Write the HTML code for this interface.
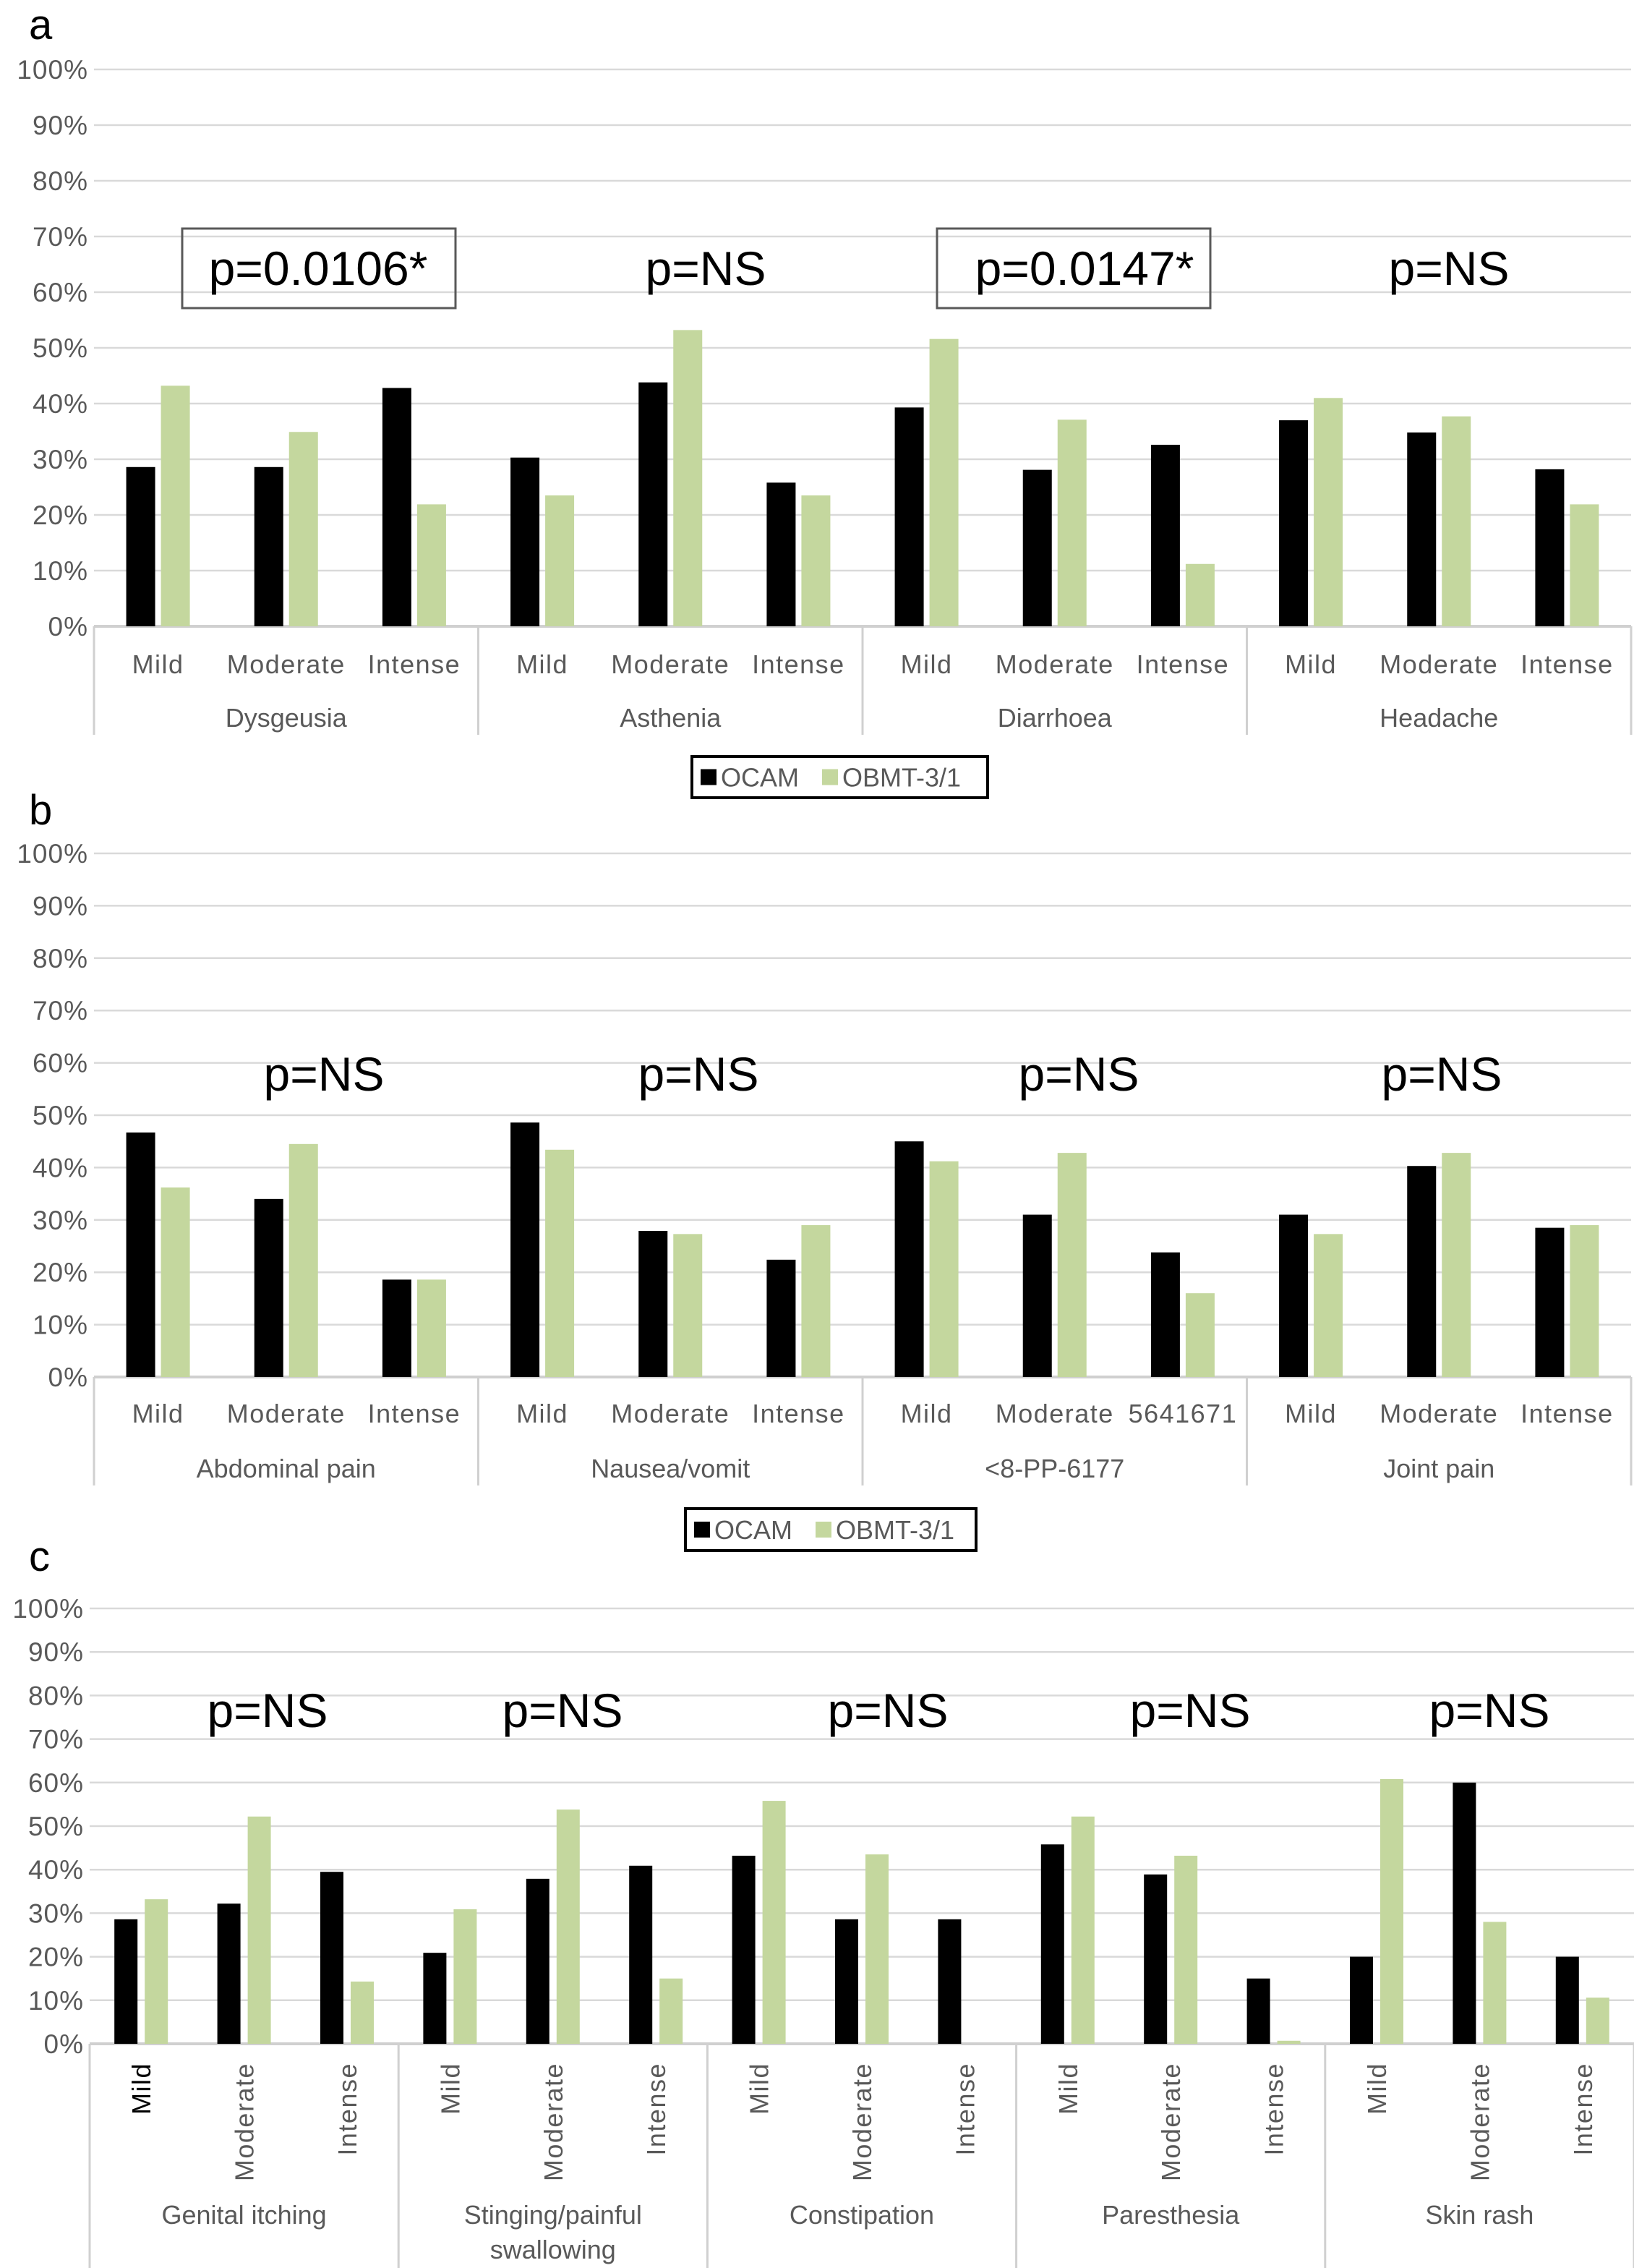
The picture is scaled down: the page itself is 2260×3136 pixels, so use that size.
<!DOCTYPE html>
<html><head><meta charset="utf-8"><style>
body{margin:0;background:#fff}
svg{display:block;font-family:"Liberation Sans",sans-serif}
</style></head><body>
<svg id="chart" width="2260" height="3136" viewBox="0 0 2260 3136" xmlns="http://www.w3.org/2000/svg"></svg>
<script>
const subs = ["Mild","Moderate","Intense"];
const groupsA = ["Dysgeusia","Asthenia","Diarrhoea","Headache"];
const ocamA = [28.6,28.6,42.8, 30.3,43.8,25.8, 39.3,28.1,32.6, 37.0,34.8,28.2];
const obmtA = [43.2,34.9,21.9, 23.5,53.2,23.5, 51.6,37.1,11.2, 41.0,37.7,21.9];
const pA = ["p=0.0106*","p=NS","p=0.0147*","p=NS"];
const groupsB = ["Abdominal pain","Nausea/vomit","<8-PP-6177","Joint pain"];
const ocamB = [46.7,34.0,18.6, 48.6,27.9,22.4, 45.0,31.0,23.8, 31.0,40.3,28.5];
const obmtB = [36.2,44.5,18.6, 43.4,27.3,29.0, 41.2,42.8,16.0, 27.3,42.8,29.0];
const pB = ["p=NS","p=NS","p=NS","p=NS"];
const groupsC = ["Genital itching","Stinging/painful|swallowing","Constipation","Paresthesia","Skin rash"];
const ocamC = [28.6,32.2,39.5, 20.9,37.9,40.9, 43.2,28.6,28.6, 45.8,38.9,15.0, 20.0,60.0,20.0];
const obmtC = [33.2,52.2,14.3, 30.9,53.8,15.0, 55.8,43.5,0, 52.2,43.2,0.7, 60.8,28.0,10.6];
const pC = ["p=NS","p=NS","p=NS","p=NS","p=NS"];
const ticks = [0,10,20,30,40,50,60,70,80,90,100];

const svg = document.getElementById('chart');
const NS = "http://www.w3.org/2000/svg";
function mk(tag, attrs, parent){const e=document.createElementNS(NS,tag);for(const k in attrs)e.setAttribute(k,attrs[k]);(parent||svg).appendChild(e);return e;}

function panel(cfg){
  const g = mk('g',{});
  
  
  const y = v => cfg.y0 - (cfg.y0-cfg.y100)*v/100;
  const n = cfg.groups.length;
  const gw = (cfg.x1-cfg.x0)/n, sw = gw/3;
  ticks.forEach(t=>{
    const l = mk('line',{x1:cfg.x0,x2:cfg.x1,y1:y(t),y2:y(t),stroke:t===0?'#d0d0d0':'#d9d9d9','stroke-width':t===0?4:2.5},g);
    
    
    const tx = mk('text',{x:cfg.x0-8,y:y(t)+13,'text-anchor':'end','font-size':37,'letter-spacing':1,fill:'#595959'},g);
    tx.textContent = t+'%';
    
    
  });
  for(let i=0;i<=n;i++){
    const sx = cfg.x0+i*gw;
    const s = mk('line',{x1:sx,x2:sx,y1:cfg.y0,y2:cfg.sepEnd,stroke:'#d0d0d0','stroke-width':3},g);
    
    
  }
  for(let i=0;i<n*3;i++){
    const cx = cfg.x0 + sw*(i+0.5);
    const b1 = mk('rect',{x:cx-cfg.bw-cfg.gap/2,y:y(cfg.ocam[i]),width:cfg.bw,height:cfg.y0-y(cfg.ocam[i]),fill:'#000'},g);
    
    
    const b2 = mk('rect',{x:cx+cfg.gap/2,y:y(cfg.obmt[i]),width:cfg.bw,height:cfg.y0-y(cfg.obmt[i]),fill:'#c4d79e'},g);
    
    
    const lab = (cfg.subLabels && cfg.subLabels[i]) || subs[i%3];
    let t;
    if(cfg.rotate){
      t = mk('text',{x:0,y:0,transform:`translate(${cx+13},${cfg.subY}) rotate(-90)`,'text-anchor':'end','font-size':36,'letter-spacing':1.5,fill:i===0?'#000':'#595959'},g);
    } else {
      t = mk('text',{x:cx,y:cfg.subY,'text-anchor':'middle','font-size':36,'letter-spacing':1.5,fill:'#595959'},g);
    }
    t.textContent = lab;
    
    
  }
  cfg.groups.forEach((gn,i)=>{
    const cx = cfg.x0+gw*(i+0.5);
    gn.split('|').forEach((line,j)=>{
      const t = mk('text',{x:cx,y:cfg.grpY+j*48,'text-anchor':'middle','font-size':36,fill:'#595959'},g);
      t.textContent = line;
      
      
    });
    const p = mk('text',{x:cfg.pX[i],y:cfg.pY,'text-anchor':'middle','font-size':66,fill:'#000'},g);
    p.textContent = cfg.p[i];
    
    
  });
  (cfg.boxes||[]).forEach(bx=>{
    const r = mk('rect',{x:bx[0],y:bx[1],width:bx[2],height:bx[3],fill:'none',stroke:'#595959','stroke-width':3},g);
    
    
  });
  const L = mk('text',{x:40,y:cfg.letterY,'font-size':58,fill:'#000'},g);
  L.textContent = cfg.letter;
  
  
}
function legend(x,y,w,h){
  const g = mk('g',{});
  
  
  mk('rect',{x:x,y:y,width:w,height:h,fill:'#fff',stroke:'#000','stroke-width':4},g);
  mk('rect',{x:x+12,y:y+h/2-11,width:22,height:22,fill:'#000'},g);
  const t1 = mk('text',{x:x+40,y:y+h/2+13,'font-size':36,fill:'#595959'},g); t1.textContent='OCAM';
  
  
  mk('rect',{x:x+180,y:y+h/2-11,width:22,height:22,fill:'#c4d79e'},g);
  const t2 = mk('text',{x:x+208,y:y+h/2+13,'font-size':36,fill:'#595959'},g); t2.textContent='OBMT-3/1';
  
  
}
panel({name:'panel-a',letter:'a',letterY:54,x0:130,x1:2256,y0:866,y100:96,groups:groupsA,ocam:ocamA,obmt:obmtA,p:pA,
  pX:[440,976,1500,2004],pY:394,subY:931,grpY:1005,sepEnd:1016,bw:40,gap:8,
  boxes:[[252,316,378,110],[1296,316,378,110]]});
legend(957,1046,409,57);
panel({name:'panel-b',letter:'b',letterY:1140,x0:130,x1:2256,y0:1904,y100:1180,groups:groupsB,ocam:ocamB,obmt:obmtB,p:pB,
  pX:[448,966,1492,1994],pY:1508,subY:1967,grpY:2043,sepEnd:2054,bw:40,gap:8,
  subLabels:[null,null,null,null,null,null,null,null,'5641671']});
legend(948,2086,402,58);
panel({name:'panel-c',letter:'c',letterY:2172,x0:124,x1:2260,y0:2826,y100:2224,groups:groupsC,ocam:ocamC,obmt:obmtC,p:pC,
  pX:[370,778,1228,1646,2060],pY:2388,subY:2852,grpY:3075,sepEnd:3136,bw:32,gap:10,rotate:true});
</script>
</body></html>
